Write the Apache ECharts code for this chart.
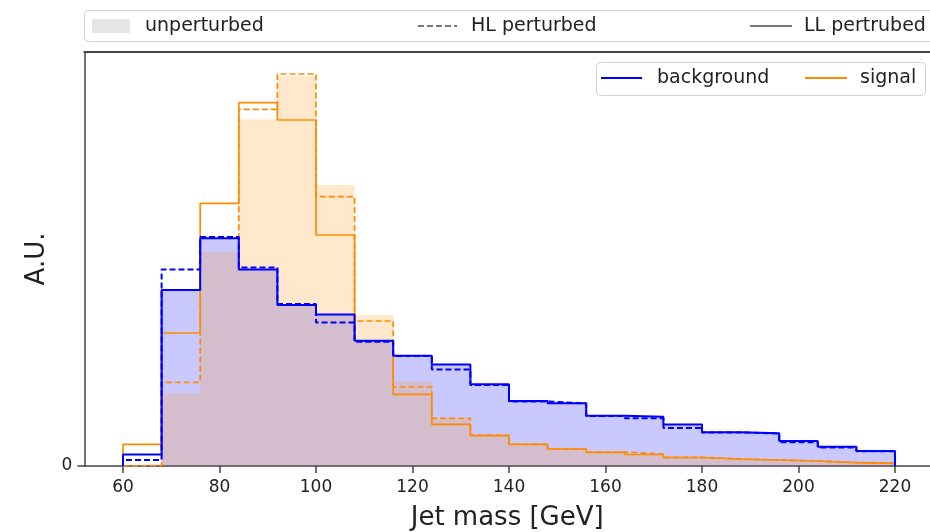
<!DOCTYPE html>
<html>
<head>
<meta charset="utf-8">
<script src="https://cdn.jsdelivr.net/npm/echarts@6/dist/echarts.min.js"></script>
<style>
html,body{margin:0;padding:0;background:#fff;}
#chart{width:930px;height:532px;}
</style>
</head>
<body>
<div id="chart"></div>
<script>
// Bin left edges (GeV), bin width 8, last edge 220
const binEdges = [60,68,76,84,92,100,108,116,124,132,140,148,156,164,172,180,188,196,204,212,220];
// Background (A.U.)
const bkgUnpert = [1,176,227,197,161,152,125,110,101,82,65,62.5,50,49,41,33.5,32.5,25,19,15];
const bkgHL     = [6,196.5,229,198.5,162,143.5,124.3,110,96.5,81,64.5,62.5,50,47.7,38,33.5,32.5,23.7,18.5,14.7];
const bkgLL     = [11.5,176,227.7,196.5,161,151.5,125.3,110.3,101.5,81.7,65,62.7,50.3,49.3,41.5,33.7,32.7,25,19.3,15];
// Signal (A.U.)
const sigUnpert = [0.5,72.7,214.3,346.7,390,281,151,84.5,48,31,22,17,14,11.5,8.5,7,6,5,3.3,2.7];
const sigHL     = [0.5,83.7,227.5,356.7,392,269.3,145,79,47.7,31,22,17,14,12,8.7,7,6,5,3.5,3];
const sigLL     = [21.7,133,262.7,363.3,346,231,125,71.7,41.7,30.3,21.7,17,13.7,11.5,8.5,7,6,5,3.3,2.7];
// Axis ticks
const xTicks = [60,80,100,120,140,160,180,200,220];
const yTicks = [0];

function steps(vals){
  const d = [[binEdges[0],0]];
  for(let i=0;i<vals.length;i++) d.push([binEdges[i], vals[i]]);
  d.push([binEdges[binEdges.length-1], vals[vals.length-1]]);
  d.push([binEdges[binEdges.length-1], 0]);
  return d;
}

const BLUE = '#0000ff', ORANGE = '#ff8c00';
const FONT = 'DejaVu Sans';
const LEG = '19px "DejaVu Sans"';

function fillSeries(vals, color){
  return {type:'line', step:'end', data:steps(vals), symbol:'none', silent:true,
    lineStyle:{width:0, opacity:0}, areaStyle:{color:color, opacity:1}};
}
function lineSeries(vals, color, dashed, w){
  return {type:'line', step:'end', data:steps(vals), symbol:'none', silent:true,
    lineStyle:{color:color, width:w, type: dashed ? [6,3] : 'solid'}};
}

const chart = echarts.init(document.getElementById('chart'), null, {renderer:'canvas'});
chart.setOption({
  animation:false,
  grid:{left:84.4, top:52, right:0, height:414, show:false, outerBoundsMode:'none', containLabel:false},
  xAxis:[{type:'value', min:52, max:227.25,
    name:'Jet mass [GeV]', nameLocation:'middle', nameGap:39,
    nameTextStyle:{fontFamily:FONT, fontSize:26, color:'#222'},
    axisLine:{show:true, lineStyle:{color:'#444', width:1.5}},
    axisTick:{show:true, length:7, customValues:xTicks, lineStyle:{color:'#444', width:1.5}},
    axisLabel:{customValues:xTicks, fontFamily:FONT, fontSize:17, color:'#222', margin:13},
    splitLine:{show:false}},
   {type:'value', position:'top', min:52, max:227.25,
    axisLine:{show:true, lineStyle:{color:'#444', width:2}},
    axisTick:{show:false}, axisLabel:{show:false}, splitLine:{show:false}}],
  yAxis:{type:'value', min:0, max:414,
    name:'A.U.', nameLocation:'middle', nameGap:33, nameRotate:90,
    nameTextStyle:{fontFamily:FONT, fontSize:26, color:'#222'},
    axisLine:{show:true, lineStyle:{color:'#444', width:1.5}},
    axisTick:{show:true, length:7, customValues:yTicks, lineStyle:{color:'#444', width:1.5}},
    axisLabel:{customValues:yTicks, fontFamily:FONT, fontSize:17, color:'#222', margin:12},
    splitLine:{show:false}},
  series:[
    fillSeries(bkgUnpert, 'rgba(0,0,255,0.21)'),
    fillSeries(sigUnpert, 'rgba(255,140,0,0.2)'),
    lineSeries(sigHL, ORANGE, true, 1.7),
    lineSeries(sigLL, ORANGE, false, 1.7),
    lineSeries(bkgHL, BLUE, true, 2),
    lineSeries(bkgLL, BLUE, false, 2)
  ],
  graphic:[
    // top legend
    {type:'rect', shape:{x:84.5, y:10.5, width:860, height:31, r:4}, style:{fill:'#fff', stroke:'#d0d0d0', lineWidth:1}},
    {type:'rect', shape:{x:92, y:19, width:38, height:14}, style:{fill:'#e5e5e5'}},
    {type:'text', x:145, y:26, style:{text:'unperturbed', font:LEG, fill:'#222', textVerticalAlign:'middle'}},
    {type:'line', shape:{x1:418, y1:26, x2:457, y2:26}, style:{stroke:'#777', lineWidth:2, lineDash:[6,3]}},
    {type:'text', x:471, y:26, style:{text:'HL perturbed', font:LEG, fill:'#222', textVerticalAlign:'middle'}},
    {type:'line', shape:{x1:750, y1:26, x2:792, y2:26}, style:{stroke:'#777', lineWidth:2}},
    {type:'text', x:804, y:26, style:{text:'LL pertrubed', font:LEG, fill:'#222', textVerticalAlign:'middle'}},
    // inner legend
    {type:'rect', shape:{x:596.5, y:62.5, width:329, height:33, r:4}, style:{fill:'#fff', stroke:'#d0d0d0', lineWidth:1}},
    {type:'line', shape:{x1:601, y1:78, x2:642, y2:78}, style:{stroke:BLUE, lineWidth:2}},
    {type:'text', x:657, y:78, style:{text:'background', font:LEG, fill:'#222', textVerticalAlign:'middle'}},
    {type:'line', shape:{x1:805, y1:78, x2:847, y2:78}, style:{stroke:ORANGE, lineWidth:2}},
    {type:'text', x:860, y:78, style:{text:'signal', font:LEG, fill:'#222', textVerticalAlign:'middle'}}
  ]
});
</script>
</body>
</html>
